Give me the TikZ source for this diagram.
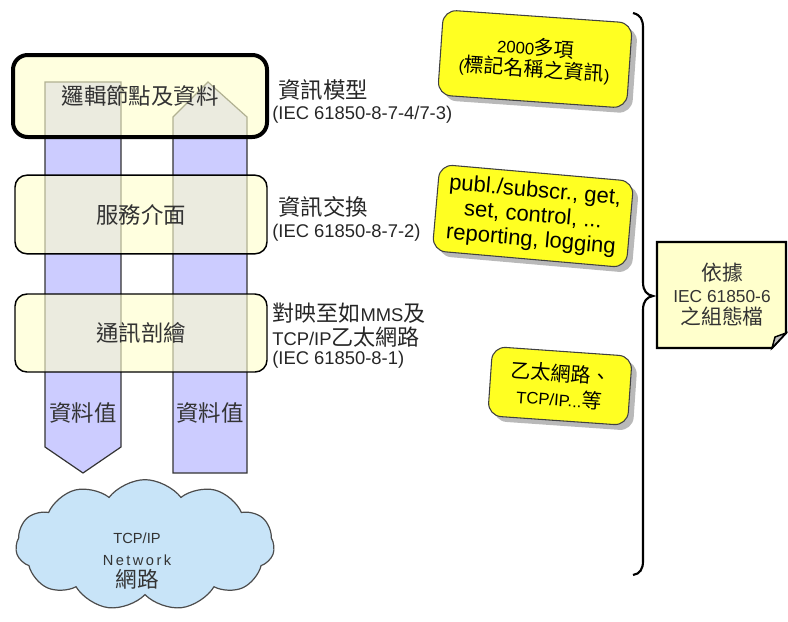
\documentclass[tikz,border=0pt]{standalone}
\usepackage{fontspec}
\setmainfont{Liberation Sans}
\newfontfamily\cjk[Scale=1.2]{Noto Sans CJK TC}
\usetikzlibrary{shapes.symbols,shadows}
\definecolor{boxyellow}{HTML}{FFFFCC}
\definecolor{colpurple}{HTML}{CCCCFF}
\definecolor{callyellow}{HTML}{FFFF22}
\definecolor{cloudblue}{HTML}{C8E4F8}
\definecolor{notefill}{HTML}{FFFFCC}
\definecolor{txtgray}{HTML}{333333}
\tikzset{
  colshape/.style={draw=black!80, line width=0.9pt, fill=colpurple},
  layerbox/.style={draw=black, line width=1.1pt, fill=boxyellow, fill opacity=0.62, text opacity=1,
    rounded corners=9pt, minimum width=189pt, minimum height=59pt, inner sep=0pt,
    font=\fontsize{14}{17}\selectfont, text=txtgray},
  rtext/.style={anchor=west, inner sep=0pt, font=\fontsize{14}{17}\selectfont, text=black!85},
  itext/.style={anchor=west, inner sep=0pt, font=\fontsize{13.8}{17}\selectfont, text=black!85},
  callout/.style={draw=black!75, line width=0.8pt, fill=callyellow, rounded corners=10pt,
    align=center, inner sep=2pt, text=black,
    drop shadow={shadow xshift=4pt, shadow yshift=-4pt, fill=black!50, opacity=0.55}},
  collabel/.style={inner sep=0pt, font=\fontsize{14}{17}\selectfont, text=txtgray},
}
\begin{document}
\begin{tikzpicture}[x=0.75pt,y=-0.75pt]
\useasboundingbox (0,0) rectangle (788,621);

% columns
\draw[colshape] (45,82) -- (121,82) -- (121,447) -- (83,473) -- (45,447) -- cycle;
\draw[colshape] (173,117) -- (208,82) -- (247,117) -- (247,473) -- (173,473) -- cycle;

% layer boxes
\node[layerbox, line width=3pt, rounded corners=11pt, minimum width=190.5pt, minimum height=61.5pt] (lnode) at (140,96) {\cjk 邏輯節點及資料};
\node[layerbox] (svc) at (141,214.5) {\cjk 服務介面};
\node[layerbox, minimum height=58.5pt] (prof) at (141,333) {\cjk 通訊剖繪};

% column labels
\node[collabel] (v1) at (83,413) {\cjk 資料值};
\node[collabel] (v2) at (210,413) {\cjk 資料值};

% right texts
\node[rtext] (t1) at (278,90) {\cjk 資訊模型};
\node[itext] (t1s) at (272,115) {(IEC 61850-8-7-4/7-3)};
\node[rtext] (t2) at (278,207) {\cjk 資訊交換};
\node[itext] (t2s) at (272,233) {(IEC 61850-8-7-2)};
\node[itext] (t3a) at (272,313) {{\cjk 對映至如}MMS{\cjk 及}};
\node[itext] (t3b) at (272,337) {TCP/IP{\cjk 乙太網路}};
\node[itext] (t3c) at (272,360) {(IEC 61850-8-1)};

% callouts
\node[callout, rotate=-4, minimum width=142pt, minimum height=64pt,
  font=\fontsize{12.5}{16}\selectfont] (c1) at (535,59)
  {2000{\cjk 多項}\\({\cjk 標記名稱之資訊})};
\node[callout, rotate=-5, minimum width=146pt, minimum height=65pt,
  font=\fontsize{16.5}{18.5}\selectfont] (c2) at (533,216)
  {publ./subscr., get,\\set, control, ...\\reporting, logging};
\node[callout, rotate=-4, minimum width=105pt, minimum height=52pt,
  font=\fontsize{12.5}{19}\selectfont] (c3) at (560,386)
  {{\cjk 乙太網路、}\\TCP/IP...{\cjk 等}};

% brace
\coordinate (btop) at (633,13);
\coordinate (btip) at (653,296);
\coordinate (bbot) at (633,575);
\draw[line width=1.6pt, black] (btop) .. controls (641,15) and (643,20) .. (643,28)
  -- (643,282) .. controls (643,291) and (647,295) .. (btip)
  .. controls (647,297) and (643,301) .. (643,310)
  -- (643,561) .. controls (643,569) and (640,574) .. (bbot);

% note
\draw[line width=1.6pt, fill=notefill] (657,242) -- (786,242) -- (786,333) -- (772,348) -- (657,348) -- cycle;
\draw[line width=1.1pt, fill=black!25] (772,348) -- (775,337) -- (786,333) -- cycle;
\node[align=center, inner sep=0pt, font=\fontsize{13}{16.5}\selectfont, text=txtgray] (note) at (722,295)
  {{\cjk 依據}\\IEC 61850-6\\{\cjk 之組態檔}};

% cloud
\node[cloud, cloud puffs=11, cloud puff arc=105, aspect=2.1, draw=black!70, line width=0.9pt,
  fill=cloudblue, minimum width=194pt, minimum height=98pt, inner sep=0pt] (net) at (145,545) {};
\node[align=center, inner sep=0pt, font=\fontsize{11}{16.5}\selectfont, text=txtgray] (netlbl) at (137,561)
  {TCP/IP\\N\,e\,t\,w\,o\,r\,k\\{\fontsize{13.5}{16.5}\selectfont\cjk 網路}};
\end{tikzpicture}
\end{document}
